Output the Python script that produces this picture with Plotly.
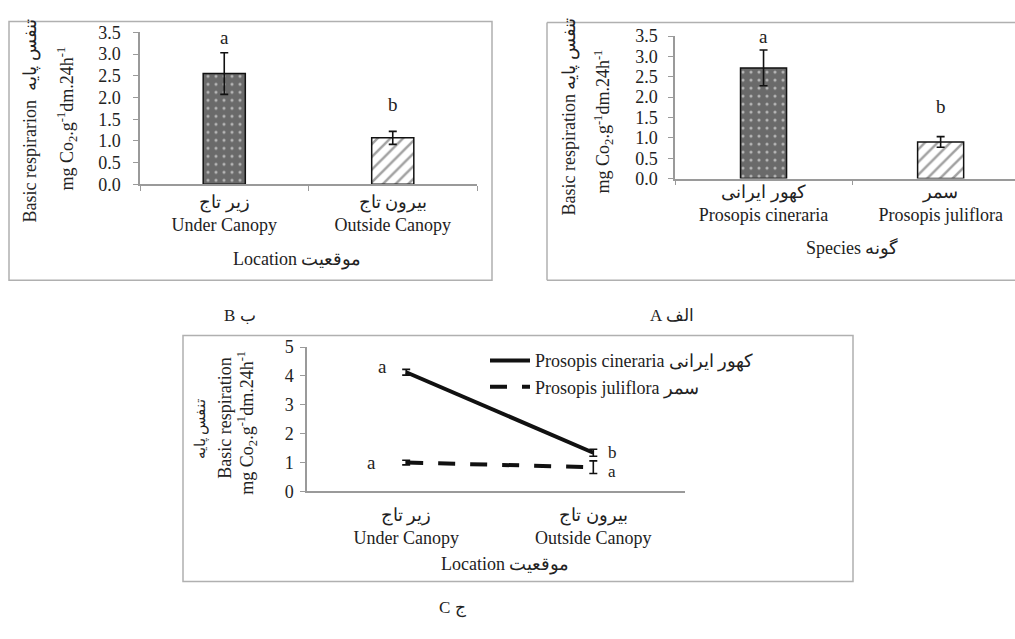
import plotly.graph_objects as go

# ---------------- data ----------------
# Panel B (location)
loc_cats = ["زیر تاج<br>Under Canopy", "بیرون تاج<br>Outside Canopy"]
loc_vals = [2.55, 1.07]
loc_err = [0.48, 0.15]
loc_letters = ["a", "b"]
loc_letter_y = [3.39, 1.83]

# Panel A (species)
sp_cats = ["کهور ایرانی<br>Prosopis cineraria", "سمر<br>Prosopis juliflora"]
sp_vals = [2.72, 0.90]
sp_err = [0.44, 0.13]
sp_letters = ["a", "b"]
sp_letter_y = [3.5, 1.76]

# Panel C (interaction)
c_cats = ["زیر تاج<br>Under Canopy", "بیرون تاج<br>Outside Canopy"]
cin_vals = [4.13, 1.34]
cin_err = [0.10, 0.12]
jul_vals = [1.00, 0.84]
jul_err = [0.08, 0.22]
cin_letters = ["a", "b"]
jul_letters = ["a", "a"]

bar_ticks = [0, 0.5, 1, 1.5, 2, 2.5, 3, 3.5]
line_ticks = [0, 1, 2, 3, 4, 5]

W, H = 1015, 639
FONT = "Liberation Serif"
AX = "#9a9a9a"


def px(x):
    return x / W


def py(y):
    return 1 - y / H


fig = go.Figure()

err_style = dict(type="data", color="#111", thickness=1.6, width=4)
bar_marker = dict(color=["#6a6a6a", "white"], pattern=dict(
    shape=[".", "/"], bgcolor=["#6a6a6a", "white"], fgcolor=["#d8d8d8", "#6e6e6e"],
    size=[8, 9], solidity=[0.12, 0.28]),
    line=dict(color="#111", width=1.5))

# Panel B bars
fig.add_trace(go.Bar(
    x=loc_cats, y=loc_vals, width=0.25, xaxis="x", yaxis="y", marker=bar_marker,
    error_y=dict(array=loc_err, **err_style), showlegend=False))

# Panel A bars
fig.add_trace(go.Bar(
    x=sp_cats, y=sp_vals, width=0.26, xaxis="x2", yaxis="y2", marker=bar_marker,
    error_y=dict(array=sp_err, **err_style), showlegend=False))

# Panel C lines
fig.add_trace(go.Scatter(
    x=c_cats, y=cin_vals, mode="lines", xaxis="x3", yaxis="y3",
    line=dict(color="#111", width=4),
    error_y=dict(array=cin_err, **err_style),
    name="Prosopis cineraria کهور ایرانی"))
fig.add_trace(go.Scatter(
    x=c_cats, y=jul_vals, mode="lines", xaxis="x3", yaxis="y3",
    line=dict(color="#111", width=4, dash="17px,15px"),
    error_y=dict(array=jul_err, **err_style),
    name="Prosopis juliflora سمر"))

common_y = dict(showgrid=False, zeroline=False, showline=True, linecolor=AX, linewidth=1.5,
                ticks="outside", ticklen=5, tickcolor=AX, tickwidth=1.2,
                tickfont=dict(family=FONT, size=18, color="#222"))
common_x = dict(showgrid=False, zeroline=False, showline=True, linecolor=AX, linewidth=1.5,
                type="category", tickfont=dict(family=FONT, size=18, color="#222"))

fig.update_layout(
    width=W, height=H, margin=dict(l=0, r=0, t=0, b=0),
    paper_bgcolor="white", plot_bgcolor="white",
    font=dict(family=FONT, color="#222"),
    xaxis=dict(domain=[px(140), px(477)], range=[-0.5, 1.5], anchor="y",
               ticks="outside", ticklen=5, tickcolor=AX, tickson="boundaries",
               ticklabelstandoff=0, **common_x),
    yaxis=dict(domain=[py(180), py(23)], range=[0, 3.5], anchor="x",
               tickvals=bar_ticks, tickformat=".1f", ticklabelstandoff=9, **common_y),
    xaxis2=dict(domain=[px(675), 1.0], range=[-0.5, 1.42], anchor="y2",
                ticks="outside", ticklen=5, tickcolor=AX, tickson="boundaries",
                ticklabelstandoff=-4, **common_x),
    yaxis2=dict(domain=[py(174), py(27)], range=[0, 3.5], anchor="x2",
                tickvals=bar_ticks, tickformat=".1f", ticklabelstandoff=7, **common_y),
    xaxis3=dict(domain=[px(307), px(685)], range=[-0.53, 1.49], anchor="y3",
                ticks="", ticklabelstandoff=6, **common_x),
    yaxis3=dict(domain=[py(497), py(348)], range=[0, 5], anchor="x3",
                tickvals=line_ticks, ticklabelstandoff=3, **common_y),
    legend=dict(x=px(485), y=py(343), xanchor="left", yanchor="top",
                font=dict(family=FONT, size=18, color="#222"),
                bgcolor="rgba(0,0,0,0)", itemwidth=40, tracegroupgap=6),
)

# panel frames
frame = dict(color="#b0b0b0", width=1.5)
fig.add_shape(type="rect", xref="paper", yref="paper", x0=px(9), x1=px(492), y0=py(279), y1=py(12), line=frame)
fig.add_shape(type="line", xref="paper", yref="paper", x0=px(547), x1=px(547), y0=py(279), y1=py(13), line=frame)
fig.add_shape(type="line", xref="paper", yref="paper", x0=px(547), x1=1, y0=py(13), y1=py(13), line=frame)
fig.add_shape(type="line", xref="paper", yref="paper", x0=px(547), x1=1, y0=py(279), y1=py(279), line=frame)
fig.add_shape(type="rect", xref="paper", yref="paper", x0=px(183), x1=px(853), y0=py(590), y1=py(336), line=frame)

ann = []


def text(x, y, s, size=17, angle=0):
    ann.append(dict(x=px(x), y=py(y), xref="paper", yref="paper", text=s, showarrow=False,
                    textangle=angle, xanchor="center", yanchor="middle",
                    font=dict(family=FONT, size=size, color="#222")))


# axis titles
text(30, 115, "Basic respirarion  تنفس پایه", 18, -90)
text(67, 112, "mg Co<sub>2</sub>.g<sup>-1</sup>dm.24h<sup>-1</sup>", 18, -90)
text(297, 258, "Location موقعیت", 18)

text(570, 111, "Basic respiration تنفس پایه", 18, -90)
text(603, 115, "mg Co<sub>2</sub>.g<sup>-1</sup>dm.24h<sup>-1</sup>", 18, -90)
text(852, 246, "Species گونه", 18)

text(200, 433, "تنفس پایه", 15, -90)
text(225, 422, "Basic respiration", 18, -90)
text(247, 426, "mg Co<sub>2</sub>.g<sup>-1</sup>dm.24h<sup>-1</sup>", 18, -90)
text(505, 572, "Location موقعیت", 18)

# panel labels
text(240, 315, "B ب", 17)
text(672, 315, "A الف", 17)
text(452, 617, "C ج", 17)

LF = dict(family=FONT, size=19, color="#222")
LFs = dict(family=FONT, size=17, color="#222")
# significance letters
for i, (l, yv) in enumerate(zip(loc_letters, loc_letter_y)):
    ann.append(dict(x=i, y=yv, xref="x", yref="y", text=l, showarrow=False, font=LF))
for i, (l, yv) in enumerate(zip(sp_letters, sp_letter_y)):
    ann.append(dict(x=i, y=yv, xref="x2", yref="y2", text=l, showarrow=False, font=LF))
ann.append(dict(x=0, y=cin_vals[0] + 0.2, xref="x3", yref="y3", text=cin_letters[0], showarrow=False,
                xshift=-24, font=LF))
ann.append(dict(x=0, y=jul_vals[0], xref="x3", yref="y3", text=jul_letters[0], showarrow=False,
                xshift=-35, font=LF))
ann.append(dict(x=1, y=cin_vals[1] + 0.02, xref="x3", yref="y3", text=cin_letters[1], showarrow=False,
                xshift=19, font=LFs))
ann.append(dict(x=1, y=jul_vals[1] - 0.14, xref="x3", yref="y3", text=jul_letters[1], showarrow=False,
                xshift=19, font=LFs))

fig.update_layout(annotations=ann)
fig.write_html("out.html", config={"displayModeBar": False},
               post_script="document.body.style.margin='0';document.body.style.overflow='hidden';")
